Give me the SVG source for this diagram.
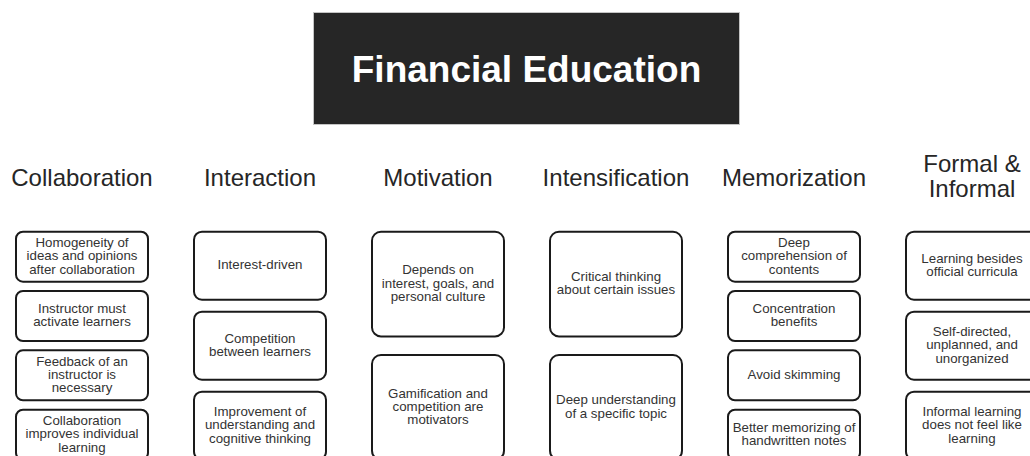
<svg xmlns="http://www.w3.org/2000/svg" width="1030" height="456" viewBox="0 0 1030 456">
<style>
.title{font-family:"Liberation Sans",Arial,sans-serif;font-size:37px;font-weight:bold;fill:#ffffff;text-anchor:middle}
.hdr{font-family:"Liberation Sans",Arial,sans-serif;font-size:24px;fill:#262626;text-anchor:middle}
.box{fill:#ffffff;stroke:#1a1a1a;stroke-width:2}
.txt{font-family:"Liberation Sans",Arial,sans-serif;font-size:13.3px;fill:#333333;text-anchor:middle}
</style>
<rect width="1030" height="456" fill="#ffffff"/>
<g id="title">
<rect x="313.5" y="12.5" width="426" height="112" fill="#262626" stroke="#c4c4c4" stroke-width="1"/>
<text class="title" x="526.5" y="82">Financial Education</text>
</g>
<g id="connectors"></g>
<g id="headers">
<text class="hdr" x="82" y="186">Collaboration</text>
<text class="hdr" x="260" y="186">Interaction</text>
<text class="hdr" x="438" y="186">Motivation</text>
<text class="hdr" x="616" y="186">Intensification</text>
<text class="hdr" x="794" y="186">Memorization</text>
<text class="hdr" x="972" y="172">Formal &amp;</text>
<text class="hdr" x="972" y="196.5">Informal</text>
</g>
<!-- Collaboration -->
<g id="collab1"><rect class="box" x="16" y="231.7" width="132" height="50" rx="7"/>
<text class="txt" x="82" y="246.9">Homogeneity of</text><text class="txt" x="82" y="260.2">ideas and opinions</text><text class="txt" x="82" y="273.5">after collaboration</text></g>
<g id="collab2"><rect class="box" x="16" y="291" width="132" height="50" rx="7"/>
<text class="txt" x="82" y="312.9">Instructor must</text><text class="txt" x="82" y="326.2">activate learners</text></g>
<g id="collab3"><rect class="box" x="16" y="350.3" width="132" height="50" rx="7"/>
<text class="txt" x="82" y="365.5">Feedback of an</text><text class="txt" x="82" y="378.8">instructor is</text><text class="txt" x="82" y="392.1">necessary</text></g>
<g id="collab4"><rect class="box" x="16" y="409.7" width="132" height="50" rx="7"/>
<text class="txt" x="82" y="424.9">Collaboration</text><text class="txt" x="82" y="438.2">improves individual</text><text class="txt" x="82" y="451.5">learning</text></g>
<!-- Interaction -->
<g id="inter1"><rect class="box" x="194" y="231.7" width="132" height="68" rx="8"/>
<text class="txt" x="260" y="269.2">Interest-driven</text></g>
<g id="inter2"><rect class="box" x="194" y="311.7" width="132" height="68" rx="8"/>
<text class="txt" x="260" y="342.6">Competition</text><text class="txt" x="260" y="355.9">between learners</text></g>
<g id="inter3"><rect class="box" x="194" y="391.7" width="132" height="68" rx="8"/>
<text class="txt" x="260" y="415.9">Improvement of</text><text class="txt" x="260" y="429.2">understanding and</text><text class="txt" x="260" y="442.5">cognitive thinking</text></g>
<!-- Motivation -->
<g id="motiv1"><rect class="box" x="372" y="231.7" width="132" height="104.7" rx="9"/>
<text class="txt" x="438" y="274.2">Depends on</text><text class="txt" x="438" y="287.5">interest, goals, and</text><text class="txt" x="438" y="300.8">personal culture</text></g>
<g id="motiv2"><rect class="box" x="372" y="355" width="132" height="104.7" rx="9"/>
<text class="txt" x="438" y="397.5">Gamification and</text><text class="txt" x="438" y="410.8">competition are</text><text class="txt" x="438" y="424.1">motivators</text></g>
<!-- Intensification -->
<g id="intens1"><rect class="box" x="550" y="231.7" width="132" height="104.7" rx="9"/>
<text class="txt" x="616" y="280.9">Critical thinking</text><text class="txt" x="616" y="294.2">about certain issues</text></g>
<g id="intens2"><rect class="box" x="550" y="355" width="132" height="104.7" rx="9"/>
<text class="txt" x="616" y="404.2">Deep understanding</text><text class="txt" x="616" y="417.5">of a specific topic</text></g>
<!-- Memorization -->
<g id="memo1"><rect class="box" x="728" y="231.7" width="132" height="50" rx="7"/>
<text class="txt" x="794" y="246.9">Deep</text><text class="txt" x="794" y="260.2">comprehension of</text><text class="txt" x="794" y="273.5">contents</text></g>
<g id="memo2"><rect class="box" x="728" y="291" width="132" height="50" rx="7"/>
<text class="txt" x="794" y="312.9">Concentration</text><text class="txt" x="794" y="326.2">benefits</text></g>
<g id="memo3"><rect class="box" x="728" y="350.3" width="132" height="50" rx="7"/>
<text class="txt" x="794" y="378.8">Avoid skimming</text></g>
<g id="memo4"><rect class="box" x="728" y="409.7" width="132" height="50" rx="7"/>
<text class="txt" x="794" y="431.6">Better memorizing of</text><text class="txt" x="794" y="444.9">handwritten notes</text></g>
<!-- Formal & Informal -->
<g id="formal1"><rect class="box" x="906" y="231.7" width="132" height="68" rx="8"/>
<text class="txt" x="972" y="262.6">Learning besides</text><text class="txt" x="972" y="275.9">official curricula</text></g>
<g id="formal2"><rect class="box" x="906" y="311.7" width="132" height="68" rx="8"/>
<text class="txt" x="972" y="335.9">Self-directed,</text><text class="txt" x="972" y="349.2">unplanned, and</text><text class="txt" x="972" y="362.5">unorganized</text></g>
<g id="formal3"><rect class="box" x="906" y="391.7" width="132" height="68" rx="8"/>
<text class="txt" x="972" y="415.9">Informal learning</text><text class="txt" x="972" y="429.2">does not feel like</text><text class="txt" x="972" y="442.5">learning</text></g>
</svg>
